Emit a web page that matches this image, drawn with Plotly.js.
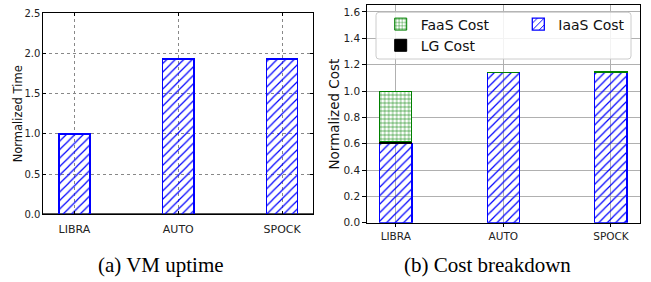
<!DOCTYPE html>
<html>
<head>
<meta charset="utf-8">
<script src="https://cdn.plot.ly/plotly-3.0.1.min.js"></script>
<style>html,body{margin:0;padding:0;background:#fff;}#chart{width:651px;height:282px;}</style>
</head>
<body>
<div id="chart"></div>
<script>
// Data
const categories = ["LIBRA", "AUTO", "SPOCK"];
const uptime = [1.0, 1.93, 1.93];
const iaasCost = [0.604, 1.142, 1.142];
const lgCost = [0.01, 0.0, 0.0];
const faasCost = [0.386, 0.0, 0.008];
const leftTicks = [0, 0.5, 1.0, 1.5, 2.0, 2.5];
const rightTicks = [0, 0.2, 0.4, 0.6, 0.8, 1.0, 1.2, 1.4, 1.6];

const W = 651, H = 282;
const px = v => v / W;
const py = v => 1 - v / H;

const BLUE = "#0000ff";
const GREEN = "#008000";
const hatchBlue = {shape: "/", fgcolor: BLUE, bgcolor: "rgba(0,0,0,0)", size: 6, solidity: 0.2};

const traces = [
  {type: "bar", x: categories, y: uptime, xaxis: "x", yaxis: "y", width: 0.3, showlegend: false,
   marker: {color: "rgba(0,0,0,0)", line: {color: BLUE, width: 1.3}, pattern: hatchBlue}},
  {type: "bar", name: "IaaS Cost", x: categories, y: iaasCost, xaxis: "x2", yaxis: "y2", width: 0.3, legend: "legend2",
   marker: {color: "rgba(0,0,0,0)", line: {color: BLUE, width: 1.3}, pattern: hatchBlue}},
  {type: "bar", name: "LG Cost", x: categories, y: lgCost, xaxis: "x2", yaxis: "y2", width: 0.3, legend: "legend", legendrank: 2,
   marker: {color: "#000000", line: {color: "#000000", width: 1}}},
  {type: "bar", name: "FaaS Cost", x: categories, y: faasCost, xaxis: "x2", yaxis: "y2", width: 0.3, legend: "legend", legendrank: 1,
   marker: {color: "rgba(0,0,0,0)", line: {color: GREEN, width: 1}, pattern: {shape: "+", fgcolor: GREEN, bgcolor: "#ffffff", size: 4, solidity: 0.25}}}
];

const legendFont = {family: "DejaVu Sans", size: 14, color: "#111"};
// rounded legend frame
const bx0 = px(376), bx1 = px(631), by0 = py(59), by1 = py(12.3);
const rx = 3 / W, ry = 3 / H;
const framePath = `M ${bx0 + rx} ${by1} L ${bx1 - rx} ${by1} Q ${bx1} ${by1} ${bx1} ${by1 - ry} ` +
  `L ${bx1} ${by0 + ry} Q ${bx1} ${by0} ${bx1 - rx} ${by0} L ${bx0 + rx} ${by0} Q ${bx0} ${by0} ${bx0} ${by0 + ry} ` +
  `L ${bx0} ${by1 - ry} Q ${bx0} ${by1} ${bx0 + rx} ${by1} Z`;

const layout = {
  width: W, height: H,
  margin: {l: 0, r: 0, t: 0, b: 0},
  paper_bgcolor: "#fff", plot_bgcolor: "#fff",
  barmode: "stack",
  showlegend: true,
  legend: {orientation: "v", xref: "paper", yref: "paper", x: px(380.7), y: py(8.5), xanchor: "left", yanchor: "top",
    bgcolor: "rgba(0,0,0,0)", borderwidth: 0, font: legendFont, traceorder: "normal"},
  legend2: {orientation: "v", xref: "paper", yref: "paper", x: px(518.3), y: py(8.5), xanchor: "left", yanchor: "top",
    bgcolor: "rgba(0,0,0,0)", borderwidth: 0, font: legendFont},
  shapes: [
    {type: "path", xref: "paper", yref: "paper", path: framePath,
     line: {color: "#cccccc", width: 1}, fillcolor: "rgba(255,255,255,0.85)", layer: "above"}
  ],
  xaxis: {domain: [px(43.3), px(313.3)], range: [-0.3, 2.3], tickvals: [0,1,2], ticktext: categories,
    showgrid: true, gridcolor: "#888", griddash: "dot", gridwidth: 1,
    showline: true, linecolor: "#000", linewidth: 1, mirror: "ticks",
    ticks: "inside", ticklen: 3, tickcolor: "#000", ticklabelstandoff: 4,
    tickfont: {family: "DejaVu Sans", size: 11, color: "#222"}},
  yaxis: {domain: [py(214.3), py(13.3)], range: [0, 2.5], tickvals: leftTicks, tickformat: ".1f",
    showgrid: true, gridcolor: "#888", griddash: "dot", gridwidth: 1,
    zeroline: true, zerolinecolor: "#555", zerolinewidth: 2,
    showline: true, linecolor: "#000", linewidth: 1, mirror: "ticks",
    ticks: "inside", ticklen: 3, tickcolor: "#000",
    tickfont: {family: "DejaVu Sans", size: 10, color: "#222"}},
  xaxis2: {domain: [px(366.7), px(640)], range: [-0.27, 2.27], tickvals: [0,1,2], ticktext: categories, anchor: "y2",
    showgrid: true, gridcolor: "#b0b0b0", gridwidth: 1,
    showline: true, linecolor: "#000", linewidth: 1, mirror: true,
    ticks: "outside", ticklen: 3.5, tickcolor: "#000",
    tickfont: {family: "DejaVu Sans", size: 10.5, color: "#222"}},
  yaxis2: {domain: [py(222.7), py(5)], range: [0, 1.653], tickvals: rightTicks, tickformat: ".1f", anchor: "x2",
    showgrid: true, gridcolor: "#b0b0b0", gridwidth: 1, zeroline: false,
    showline: true, linecolor: "#000", linewidth: 1, mirror: true,
    ticks: "outside", ticklen: 3.5, tickcolor: "#000",
    tickfont: {family: "DejaVu Sans", size: 10.5, color: "#222"}},
  annotations: [
    {text: "Normalized Time", xref: "paper", yref: "paper", x: px(18.3), y: py(114), textangle: -90,
     xanchor: "center", yanchor: "middle", showarrow: false, font: {family: "DejaVu Sans", size: 11.5, color: "#111"}},
    {text: "Normalized Cost", xref: "paper", yref: "paper", x: px(333.5), y: py(114), textangle: -90,
     xanchor: "center", yanchor: "middle", showarrow: false, font: {family: "DejaVu Sans", size: 13.5, color: "#111"}},
    {text: "(a) VM uptime", xref: "paper", yref: "paper", x: px(161), y: py(265), xanchor: "center", yanchor: "middle",
     showarrow: false, font: {family: "Liberation Serif", size: 21, color: "#000"}},
    {text: "(b) Cost breakdown", xref: "paper", yref: "paper", x: px(487), y: py(265), xanchor: "center", yanchor: "middle",
     showarrow: false, font: {family: "Liberation Serif", size: 21, color: "#000"}}
  ]
};

Plotly.newPlot("chart", traces, layout, {displayModeBar: false, staticPlot: true});
</script>
</body>
</html>
